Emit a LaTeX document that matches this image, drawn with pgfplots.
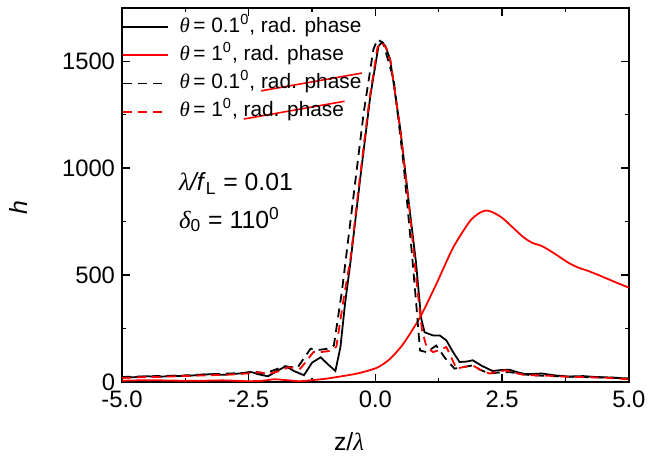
\documentclass[border=0pt]{standalone}
\usepackage{pgfplots}
\pgfplotsset{compat=1.18}
\usepackage{fontspec}
\setmainfont{Liberation Sans}
\newfontfamily\serif{Liberation Serif}
\newcommand\gr[1]{{\serif\itshape #1}}
% red slanted strike-through over a piece of legend text
\newcommand\strike[1]{\setbox0\hbox{#1}\rlap{\raisebox{-1.6pt}{\color{red}\rotatebox{10}{\rule{1.02\wd0}{0.8pt}}}}\box0}

\begin{document}
\begin{tikzpicture}
\begin{axis}[
    scale only axis,
    width=255.5pt, height=188.5pt,
    xmin=-5, xmax=5,
    ymin=0, ymax=1750,
    clip=false,
    axis line style={line width=0.75pt},
    xtick={-5,-2.5,0,2.5,5},
    ytick={0,500,1000,1500},
    minor x tick num=1,
    minor y tick num=1,
    tick align=inside,
    major tick length=4pt,
    minor tick length=2pt,
    tick style={black, line width=0.7pt},
    ticklabel style={font=\fontsize{12}{14}\selectfont},
    xticklabel style={yshift=-1pt, /pgf/number format/.cd, fixed, fixed zerofill, precision=1},
    yticklabel style={/pgf/number format/.cd, 1000 sep={}},
    /pgf/number format/assume math mode=true,
    xlabel={z/\gr{λ}},
    ylabel={\textit{h}},
    label style={font=\fontsize{12.5}{14}\selectfont},
    xlabel style={at={(axis description cs:0.448,-0.159)}, anchor=center},
    ylabel style={at={(axis description cs:-0.205,0.465)}, anchor=center},
    legend cell align=left,
    legend image code/.code={\draw[#1] (0pt,0pt) -- (22.5pt,0pt);},
    legend style={
        draw=none, fill=none,
        at={(axis description cs:0,1)}, anchor=north west,
        yshift=-4.5pt,
        inner sep=0pt,
        font=\fontsize{10.5}{12}\selectfont,
        column sep=5.5pt,
        row sep=4.2pt,
        nodes={inner sep=0pt, text height=7.5pt, text depth=2.5pt}
    },
]

% theta = 0.1, rad. phase
\addplot[black, line width=0.9pt] coordinates {
(-5.0,19) (-4.75,22) (-4.5,26) (-4.25,24) (-4.0,28) (-3.75,27) (-3.5,32)
(-3.25,36) (-3.0,33) (-2.84,36) (-2.65,40) (-2.45,46) (-2.3,35) (-2.12,26)
(-1.95,50) (-1.77,73) (-1.6,50) (-1.41,31) (-1.25,90) (-1.08,115) (-0.95,85)
(-0.79,51) (-0.69,163) (-0.6,365) (-0.49,565) (-0.30,952) (-0.10,1339)
(0.06,1571) (0.13,1590) (0.20,1570) (0.29,1509) (0.49,1184) (0.68,797)
(0.80,560) (0.90,300) (0.97,232) (1.14,217) (1.27,217) (1.40,194) (1.53,140)
(1.66,93) (1.80,95) (1.92,101) (2.1,75) (2.31,51) (2.47,55) (2.64,57)
(2.8,45) (2.96,36) (3.29,39) (3.55,30) (3.81,25) (4.1,27) (4.33,23)
(4.7,20) (5.0,15)
};
\addlegendentry{\gr{θ}\,= 0.1\textsuperscript{0}, rad. phase}

% theta = 1, rad. phase
\addplot[red, line width=0.9pt, smooth, tension=0.4] coordinates {
(-5.0,5) (-4.5,8) (-4.0,6) (-3.5,5) (-3.0,7) (-2.5,3) (-2.2,6) (-2.0,12)
(-1.75,8) (-1.5,3) (-1.25,8) (-1.0,14) (-0.75,23) (-0.36,39) (0.03,66)
(0.29,108) (0.55,178) (0.88,302) (1.20,457) (1.53,627) (1.86,751)
(2.05,790) (2.18,802) (2.3,795) (2.51,766) (2.90,681) (3.1,650) (3.29,635)
(3.55,598) (3.81,557) (4.0,535) (4.20,519) (4.40,500) (4.60,480)
(4.80,460) (5.0,441)
};
\addlegendentry{\gr{θ}\,= 1\textsuperscript{0}, rad. phase}

% theta = 0.1, dashed
\addplot[black, line width=0.9pt, dash pattern=on 4.5pt off 3pt] coordinates {
(-5.0,23) (-4.6,25) (-4.2,28) (-3.8,30) (-3.4,34) (-3.0,38) (-2.78,40)
(-2.58,42) (-2.4,48) (-2.19,39) (-2.0,55) (-1.80,73) (-1.54,66) (-1.28,155)
(-1.1,150) (-0.95,155) (-0.82,170) (-0.66,426) (-0.43,874) (-0.23,1262)
(-0.04,1556) (0.04,1602) (0.15,1587) (0.36,1416) (0.55,1030) (0.72,600)
(0.80,380) (0.88,147) (1.01,139) (1.20,170) (1.38,110) (1.56,62) (1.75,70)
(1.92,77) (2.08,55) (2.25,39) (2.45,44) (2.64,46) (2.85,38) (3.07,31)
(3.4,28) (3.8,24) (4.2,22) (4.6,20) (5.0,15)
};
\addlegendentry{\gr{θ}\,= 0.1\textsuperscript{0}, \strike{rad. phase}}

% theta = 1, dashed
\addplot[red, line width=0.9pt, dash pattern=on 4.5pt off 3pt] coordinates {
(-5.0,18) (-4.6,22) (-4.2,24) (-3.8,27) (-3.4,30) (-3.0,33) (-2.7,36)
(-2.5,40) (-2.3,45) (-2.1,38) (-1.9,50) (-1.72,68) (-1.48,62) (-1.22,140)
(-1.05,140) (-0.90,145) (-0.77,165) (-0.62,400) (-0.49,580) (-0.32,930)
(-0.12,1320) (0.04,1565) (0.12,1590) (0.22,1560) (0.30,1500) (0.49,1180)
(0.68,790) (0.82,450) (0.92,240) (1.01,163) (1.14,139) (1.27,150)
(1.40,163) (1.60,62) (1.75,70) (1.92,77) (2.08,55) (2.25,39) (2.4,48)
(2.57,54) (2.75,42) (2.96,31) (3.3,30) (3.7,25) (4.1,22) (4.5,20) (5.0,12)
};
\addlegendentry{\gr{θ}\,= 1\textsuperscript{0}, \strike{rad. phase}}

\node[anchor=base west, font=\fontsize{12.5}{14}\selectfont, inner sep=0pt]
    at (axis cs:-3.88,896) {\gr{λ}\textit{/f}\textsubscript{L} = 0.01};
\node[anchor=base west, font=\fontsize{12.5}{14}\selectfont, inner sep=0pt]
    at (axis cs:-3.88,720) {\gr{δ}\textsubscript{0} = 110\textsuperscript{0}};

% page size as in the reference
\path (rel axis cs:-0.2407,1.0212) rectangle (rel axis cs:1.0352,-0.1963);
\end{axis}
\end{tikzpicture}
\end{document}
